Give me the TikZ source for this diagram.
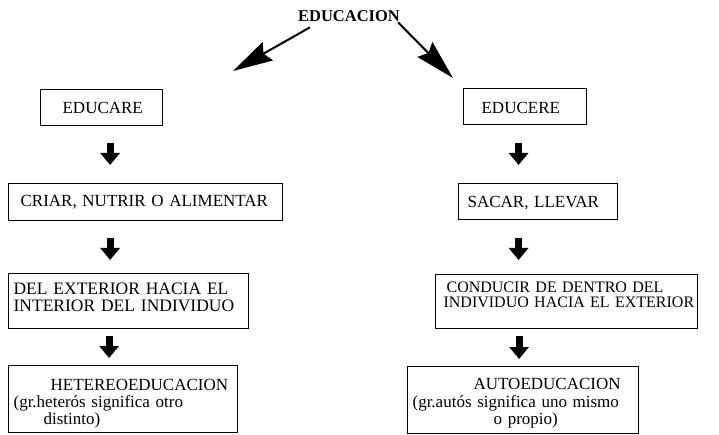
\documentclass[tikz,border=0pt]{standalone}
\usepackage{fontspec}
\setmainfont{Liberation Serif}
\usetikzlibrary{arrows.meta}

\begin{document}
\begin{tikzpicture}[x=1pt, y=-1pt,
    box/.style={draw, line width=1.2pt, inner sep=0pt, anchor=north west, align=left, font=\fontsize{17}{15}\selectfont},
    darrow/.style={line width=7pt, -{Triangle[length=12pt,width=19pt]}},
    bigarrow/.style={line width=2pt, -{Stealth[length=40pt,width=21pt,inset=5pt]}}]
    \useasboundingbox (0,0) rectangle (719,435);
    \node[font=\bfseries\fontsize{16.5}{18}\selectfont, inner sep=0pt, anchor=base] at (349,22) (edu){EDUCACION};

    \node[box, text width=122pt, text height=24pt, text depth=12pt] at (40,89) (educare){\hspace*{22pt}EDUCARE};
    \node[box, text width=123pt, text height=25pt, text depth=11pt] at (463,88) (educere){\hspace*{18pt}EDUCERE};
    \node[box, text width=274pt, text height=23pt, text depth=14pt] at (8,183) (criar){\hspace*{12pt}CRIAR, NUTRIR O ALIMENTAR};
    \node[box, text width=159pt, text height=23.5pt, text depth=12.5pt] at (458,183) (sacar){\hspace*{9pt}SACAR, LLEVAR};
    \node[box, font=\fontsize{17.5}{16.5}\selectfont, text width=240pt, text height=21pt, text depth=34pt] at (8,273) (ext){\hspace*{5pt}DEL EXTERIOR HACIA EL\\\hspace*{5pt}INTERIOR DEL INDIVIDUO};
    \node[box, font=\fontsize{16}{15}\selectfont, text width=262pt, text height=17.5pt, text depth=36.5pt] at (435,274) (cond){\hspace*{11pt}CONDUCIR DE DENTRO DEL\\\hspace*{8pt}INDIVIDUO HACIA EL EXTERIOR};
    \node[box, text width=229pt, text height=25pt, text depth=42pt] at (8,365) (hetero){\hspace*{42pt}HETEREOEDUCACION\\[2pt]\hspace*{5pt}(gr.heterós significa otro\\\hspace*{35pt}distinto)};
    \node[box, text width=231pt, text height=23pt, text depth=44pt] at (407,366) (autoed){\hspace*{66pt}AUTOEDUCACION\\[3pt]\hspace*{5pt}(gr.autós significa uno mismo\\\hspace*{86pt}o propio)};

    \coordinate (lefttip) at (233,71);
    \coordinate (righttip) at (453,78);

    \draw[bigarrow]([xshift=12pt, yshift=-5pt]edu.south west) -- (lefttip);
    \draw[bigarrow]([xshift=-2pt]edu.south east) -- (righttip);
    \draw[darrow]([xshift=8.5pt, yshift=-17pt]educare.south) -- ([xshift=-35.5pt, yshift=18pt]criar.north);
    \draw[darrow]([xshift=-35.5pt, yshift=-17pt]criar.south) -- ([xshift=-18.5pt, yshift=13pt]ext.north);
    \draw[darrow]([xshift=-19.5pt, yshift=-7pt]ext.south) -- ([xshift=-14pt, yshift=7pt]hetero.north);
    \draw[darrow]([xshift=-6.5pt, yshift=-18pt]educere.south) -- ([xshift=-19.5pt, yshift=18pt]sacar.north);
    \draw[darrow]([xshift=-19.5pt, yshift=-18pt]sacar.south) -- ([xshift=-48pt, yshift=14pt]cond.north);
    \draw[darrow]([xshift=-47.5pt, yshift=-7pt]cond.south) -- ([xshift=-4pt, yshift=7pt]autoed.north);
\end{tikzpicture}
\end{document}
